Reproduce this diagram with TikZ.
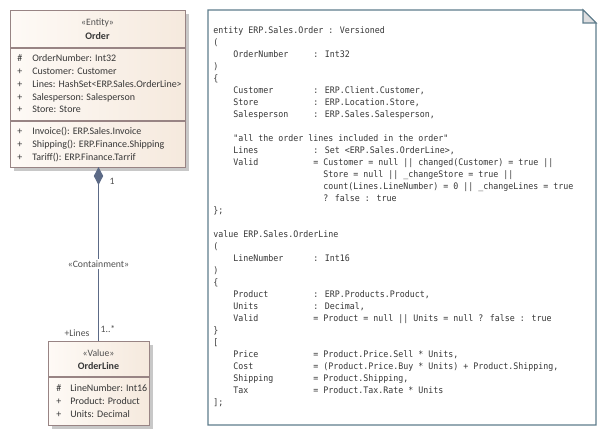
\documentclass[tikz,border=0pt]{standalone}
\usepackage{fontspec}
\setmainfont{Carlito}
\newfontfamily\codefont[FakeStretch=0.923]{DejaVu Sans Mono}
\usetikzlibrary{arrows.meta,shadows}
\definecolor{boxborder}{RGB}{152,132,132}
\definecolor{boxlight}{RGB}{254,250,246}
\definecolor{boxdark}{RGB}{245,233,221}
\definecolor{shadowgray}{RGB}{200,200,200}
\definecolor{connc}{RGB}{92,106,134}
\definecolor{notec}{RGB}{95,125,140}
\definecolor{foldc}{RGB}{222,222,224}
\definecolor{txt}{RGB}{55,55,55}
\definecolor{stereo}{RGB}{80,80,80}
\tikzset{
  classbox/.style={draw=boxborder, line width=0.8pt, left color=boxlight, right color=boxdark,
    anchor=north west, inner sep=0pt,
    drop shadow={shadow xshift=2.25pt, shadow yshift=-2.25pt, fill=shadowgray, opacity=1}},
  divider/.style={draw=boxborder, line width=0.8pt},
  stereotxt/.style={font=\fontsize{7.3}{8}\selectfont, text=stereo, inner sep=0pt},
  nametxt/.style={font=\fontsize{7.5}{8}\selectfont\bfseries, text=txt, inner sep=0pt},
  member/.style={font=\fontsize{7.5}{8}\selectfont, text=txt, inner sep=0pt, anchor=base west},
  conn/.style={draw=connc, line width=0.8pt},
  connlabel/.style={font=\fontsize{7.3}{8}\selectfont, text=stereo, inner sep=1pt},
  code/.style={font=\codefont\fontsize{6.75}{8}\selectfont, text=txt, inner sep=0pt, anchor=base west},
  notebox/.style={draw=notec, line width=0.8pt, fill=white},
}
\newcommand\cl[4]{\node[code] (#1) at ({213+5*#2},{33.5+12*#3}) {#4};}
\begin{document}
\begin{tikzpicture}[x=0.75pt,y=-0.75pt]
\useasboundingbox[fill=white] (0,0) rectangle (605,435);

% ---- Order class ----
\node[classbox, minimum width=131.25pt, minimum height=117.75pt] (order) at (10,10) {};
\draw[divider] (10,48) -- (185,48);
\draw[divider] (10,121) -- (185,121);
\node[stereotxt] (orderst) at (97.5,23) {«Entity»};
\node[nametxt] (ordername) at (97.5,36) {Order};
\node[member] (om1) at (17,61.5) {\#};
\node[member] (oa1) at (32,61.5) {OrderNumber: Int32};
\node[member] (om2) at (17,74.5) {+};
\node[member] (oa2) at (32,74.5) {Customer: Customer};
\node[member] (om3) at (17,87.5) {+};
\node[member] (oa3) at (32,87.5) {Lines: HashSet<ERP.Sales.OrderLine>};
\node[member] (om4) at (17,100.5) {+};
\node[member] (oa4) at (32,100.5) {Salesperson: Salesperson};
\node[member] (om5) at (17,112.5) {+};
\node[member] (oa5) at (32,112.5) {Store: Store};
\node[member] (om6) at (17,134.5) {+};
\node[member] (oo1) at (32,134.5) {Invoice(): ERP.Sales.Invoice};
\node[member] (om7) at (17,147.5) {+};
\node[member] (oo2) at (32,147.5) {Shipping(): ERP.Finance.Shipping};
\node[member] (om8) at (17,160.5) {+};
\node[member] (oo3) at (32,160.5) {Tariff(): ERP.Finance.Tarrif};

% ---- OrderLine class ----
\node[classbox, minimum width=75.75pt, minimum height=63pt] (orderline) at (48,341) {};
\draw[divider] (48,377) -- (149,377);
\node[stereotxt] (olst) at (98.5,353) {«Value»};
\node[nametxt] (olname) at (98.5,366) {OrderLine};
\node[member] (lm1) at (56,391.5) {\#};
\node[member] (la1) at (70,391.5) {LineNumber: Int16};
\node[member] (lm2) at (56,404.5) {+};
\node[member] (la2) at (70,404.5) {Product: Product};
\node[member] (lm3) at (56,417.5) {+};
\node[member] (la3) at (70,417.5) {Units: Decimal};

% ---- Containment connector ----
\coordinate (top) at (98.5,167);
\draw[conn, {Diamond[length=13.5pt,width=7pt,fill=connc]}-] (top) -- (top |- orderline.north)
  node[connlabel, fill=white, pos=0.557] (contlbl) {«Containment»};
\node[connlabel] (mult1) at (112,181) {1};
\node[connlabel] (role) at (77,333) {+Lines};
\node[connlabel] (mult2) at (108,329) {1..*};

% ---- Note ----
\draw[notebox] (208,10) -- (583,10) -- (596,23) -- (596,425) -- (208,425) -- cycle;
\draw[draw=notec, line width=0.8pt, fill=foldc] (583,10) -- (583,23) -- (596,23) -- cycle;

\cl{c0}{0}{0}{entity ERP.Sales.Order : Versioned}
\cl{c1}{0}{1}{(}
\cl{c2a}{4}{2}{OrderNumber}\cl{c2b}{20}{2}{: Int32}
\cl{c3}{0}{3}{)}
\cl{c4}{0}{4}{\{}
\cl{c5a}{4}{5}{Customer}\cl{c5b}{20}{5}{: ERP.Client.Customer,}
\cl{c6a}{4}{6}{Store}\cl{c6b}{20}{6}{: ERP.Location.Store,}
\cl{c7a}{4}{7}{Salesperson}\cl{c7b}{20}{7}{: ERP.Sales.Salesperson,}
\cl{c9}{4}{9}{"all the order lines included in the order"}
\cl{c10a}{4}{10}{Lines}\cl{c10b}{20}{10}{: Set <ERP.Sales.OrderLine>,}
\cl{c11a}{4}{11}{Valid}\cl{c11b}{20}{11}{= Customer = null || changed(Customer) = true ||}
\cl{c12}{22}{12}{Store = null || \_changeStore = true ||}
\cl{c13}{22}{13}{count(Lines.LineNumber) = 0 || \_changeLines = true}
\cl{c14}{22}{14}{? false : true}
\cl{c15}{0}{15}{\};}
\cl{c17}{0}{17}{value ERP.Sales.OrderLine}
\cl{c18}{0}{18}{(}
\cl{c19a}{4}{19}{LineNumber}\cl{c19b}{20}{19}{: Int16}
\cl{c20}{0}{20}{)}
\cl{c21}{0}{21}{\{}
\cl{c22a}{4}{22}{Product}\cl{c22b}{20}{22}{: ERP.Products.Product,}
\cl{c23a}{4}{23}{Units}\cl{c23b}{20}{23}{: Decimal,}
\cl{c24a}{4}{24}{Valid}\cl{c24b}{20}{24}{= Product = null || Units = null ? false : true}
\cl{c25}{0}{25}{\}}
\cl{c26}{0}{26}{[}
\cl{c27a}{4}{27}{Price}\cl{c27b}{20}{27}{= Product.Price.Sell * Units,}
\cl{c28a}{4}{28}{Cost}\cl{c28b}{20}{28}{= (Product.Price.Buy * Units) + Product.Shipping,}
\cl{c29a}{4}{29}{Shipping}\cl{c29b}{20}{29}{= Product.Shipping,}
\cl{c30a}{4}{30}{Tax}\cl{c30b}{20}{30}{= Product.Tax.Rate * Units}
\cl{c31}{0}{31}{];}
\end{tikzpicture}
\end{document}
